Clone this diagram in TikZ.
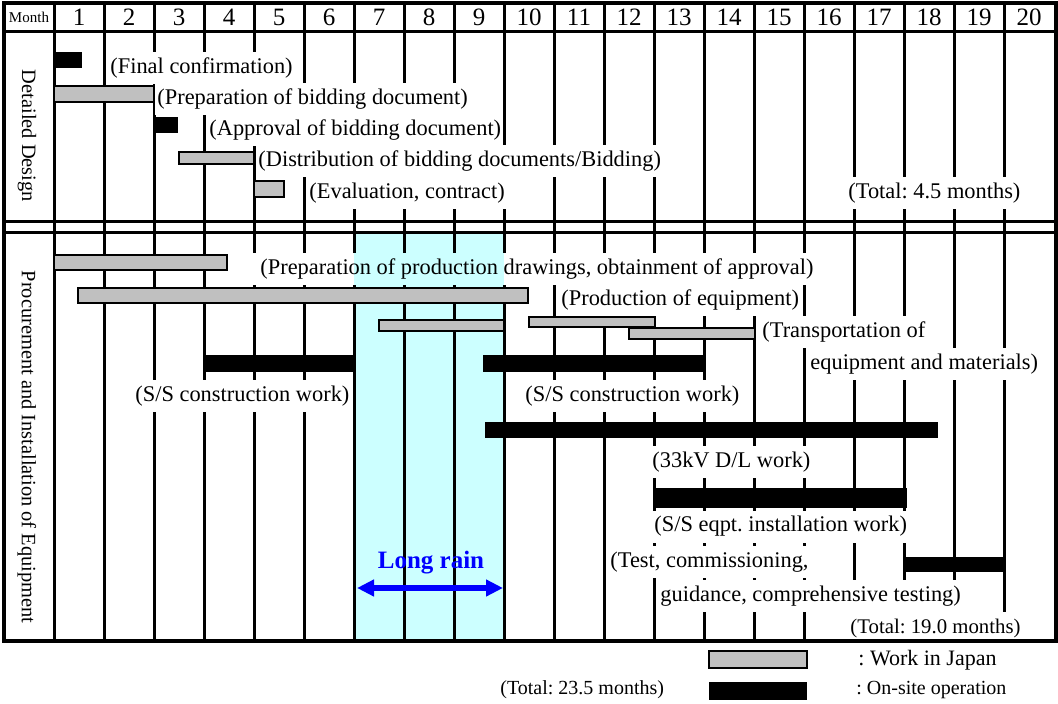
\documentclass[tikz,border=0pt]{standalone}
\usepackage{fontspec}
\setmainfont{Liberation Serif}
\usepackage{tikz}
\usetikzlibrary{positioning,arrows.meta}
\definecolor{cBand}{HTML}{CCFFFF}
\definecolor{cJapan}{HTML}{C0C0C0}
\definecolor{cRain}{HTML}{0000FF}
\frenchspacing

\begin{document}
\begin{tikzpicture}[x=0.5pt,y=-0.5pt,
  rule/.style={line width=1.5pt},
  frame/.style={line width=2pt},
  lbl/.style={fill=white,anchor=west,inner xsep=1pt,inner ysep=0pt,
              minimum height=16pt,font=\fontsize{11.2}{13}\selectfont},
  small/.style={anchor=west,inner sep=1pt,font=\fontsize{10}{12}\selectfont},
  mon/.style={font=\fontsize{12.5}{14}\selectfont,inner sep=0pt},
  sec/.style={rotate=-90,inner sep=0pt,font=\fontsize{10.2}{12}\selectfont},
  japan/.style={fill=cJapan,draw=black,line width=0.6pt},
  site/.style={fill=black},
  rain/.style={{Triangle[length=8.5pt,width=8pt]}-{Triangle[length=8.5pt,width=8pt]},
               line width=2.8pt,cRain}]

% frame, header, grid
\useasboundingbox (0,0) rectangle (1058,704);
\foreach \x in {54,104,...,1004}
  \draw[rule] (\x,3) -- (\x,641);
\node[font=\fontsize{7.5}{9}\selectfont,inner sep=0pt] (hMonth) at (29,17.5) {Month};
\foreach \m in {1,...,20}
  \node[mon] (m\m) at ({29+50*\m},17.5) {\m};
\node[sec] (secDesign) at (27,136) {Detailed Design};
\node[sec] (secProc) at (27,447) {Procurement and Installation of Equipment};

% detailed design labels
\node[lbl] (lFinal) at (108,68) {(Final confirmation)};
\node[lbl] (lPrepBid) at (155,99) {(Preparation of bidding document)};
\node[lbl] (lAppr) at (207,130.5) {(Approval of bidding document)};
\node[lbl] (lDist) at (256,161.5) {(Distribution of bidding documents/Bidding)};
\node[lbl] (lEval) at (307,193.5) {(Evaluation, contract)};
\node[lbl] (lTotA) at (846,193.5) {(Total: 4.5 months)};

% procurement labels
\node[lbl,inner xsep=4pt] (lDraw) at (252,269) {(Preparation of production drawings, obtainment of approval)};
\node[lbl] (lProd) at (559,300.5) {(Production of equipment)};
\node[lbl] (lTrans) at (760,332.5) {(Transportation of};
\node[lbl] (lTrans2) at (808,364.5) {equipment and materials)};
\node[lbl] (lSSa) at (133,396.5) {(S/S construction work)};
\node[lbl] (lSSb) at (523,396.5) {(S/S construction work)};
\node[lbl] (lDL) at (650,462) {(33kV D/L work)};
\node[lbl] (lEqpt) at (652,526.5) {(S/S eqpt. installation work)};
\node[lbl] (lTest) at (608,562) {(Test, commissioning,};
\node[lbl] (lGuid) at (658,596) {guidance, comprehensive testing)};
\node[lbl,font=\fontsize{10.4}{12}\selectfont] (lTotB) at (848,628) {(Total: 19.0 months)};

\draw[rule] (4,32) -- (1056,32);
\draw[rule] (4,222) -- (1056,222);
\draw[rule] (4,233) -- (1056,233);
\draw[frame] (4,3) rectangle (1056,641);

% long rain period
\begin{scope}[blend mode=multiply]
  \fill[cBand] (354,233) rectangle (504,641);
\end{scope}

% bars
\fill[site] (54,52) rectangle (82,68);
\draw[japan] (54,86) rectangle (154,102);
\fill[site] (154,117) rectangle (178,133);
\draw[japan] (179,152) rectangle (254,164);
\draw[japan] (254,181) rectangle (284,197);

\draw[japan] (54,255) rectangle (227,270);
\draw[japan] (78,288) rectangle (528,303);
\draw[japan] (379,320) rectangle (504,331);
\draw[japan] (529,317) rectangle (655,327);
\draw[japan] (629,328) rectangle (755,339);
\fill[site] (204,355) rectangle (354,372);
\fill[site] (483,355) rectangle (706,372);
\fill[site] (485,422) rectangle (938,438);
\fill[site] (654,488) rectangle (907,508);
\fill[site] (906,557) rectangle (1006,572);

\node[font=\bfseries\fontsize{12.5}{14}\selectfont,text=cRain,inner sep=0pt] (rainTxt) at (431,563) {Long rain};
\coordinate (rainL) at (357,588);
\coordinate (rainR) at (503,588);
\draw[rain] (rainL) -- (rainR);

% legend
\draw[japan] (709,651) rectangle (807,668);
\fill[site] (709,682) rectangle (807,700);
\node[small,font=\fontsize{11}{13}\selectfont] (lgJapan) at (856,660) {: Work in Japan};
\node[small] (lgSite) at (854,690) {: On-site operation};
\node[small] (lTotAll) at (498,690) {(Total: 23.5 months)};
\end{tikzpicture}
\end{document}
